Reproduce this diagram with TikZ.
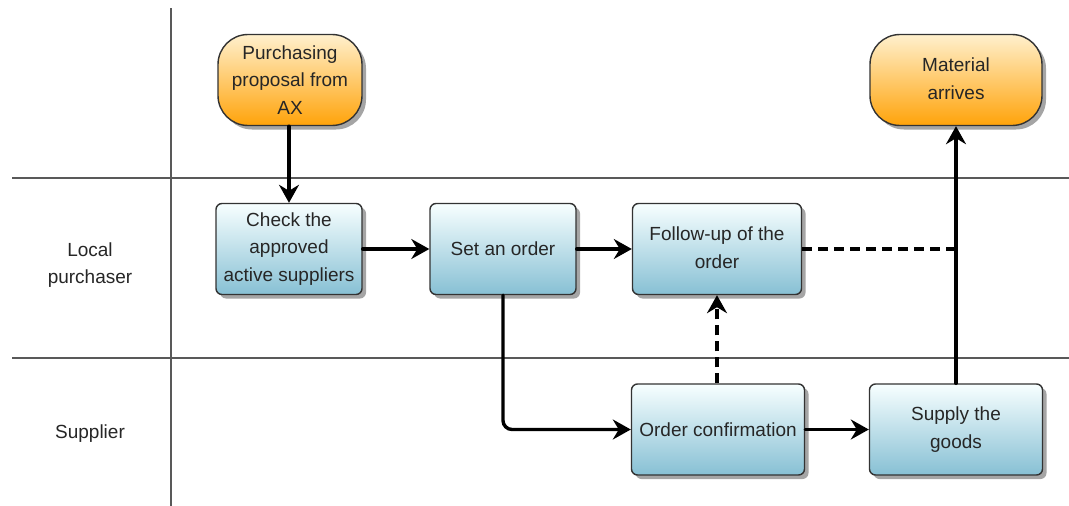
\documentclass[tikz,border=0pt]{standalone}
\usepackage{fontspec}
\setmainfont{Liberation Sans}
\usetikzlibrary{arrows.meta,shadows,positioning}
\tikzset{
  lane/.style={draw=black!65, line width=1.3pt},
  boxshadow/.style={drop shadow={shadow xshift=4pt, shadow yshift=-4pt, fill=black!50, opacity=0.7}},
  task/.style={boxshadow, draw=black!80, line width=1.4pt, rounded corners=6pt,
    top color=blue!3!cyan!3!white, bottom color={rgb,255:red,135;green,192;blue,212},
    minimum width=#1, minimum height=91pt, align=center, inner sep=1pt,
    font=\fontsize{19}{27.5}\selectfont, text=black!85},
  task/.default=146pt,
  terminal/.style={boxshadow, draw=black!80, line width=1.4pt, rounded corners=30pt,
    top color={rgb,255:red,255;green,240;blue,205}, bottom color={rgb,255:red,255;green,163;blue,10},
    minimum width=#1, minimum height=91pt, align=center, inner sep=1pt,
    font=\fontsize{19}{27.5}\selectfont, text=black!85},
  lanelabel/.style={align=center, font=\fontsize{19}{27.5}\selectfont, text=black!85},
  flow/.style={line width=3.4pt, black, line cap=round,
    -{Stealth[length=18pt,width=20pt,inset=6pt]}},
  dashflow/.style={flow, line cap=butt, dash pattern=on 10pt off 6pt},
}
\begin{document}
\begin{tikzpicture}[x=1pt,y=-1pt]
  \useasboundingbox (0,0) rectangle (1069,506);
  \fill[white] (0,0) rectangle (1069,506);

  % swimlane grid
  \draw[lane] (12,178) -- (1069,178);
  \draw[lane] (12,358) -- (1069,358);
  \draw[lane] (171,8) -- (171,506);

  \node[lanelabel] (lp) at (90,265) {Local\\purchaser};
  \node[lanelabel] (sp) at (90,434) {Supplier};

  % process steps
  \node[terminal=144pt] (prop) at (290,80) {Purchasing\\proposal from\\AX};
  \node[terminal=172pt, text depth=3pt] (arr) at (956,80) {Material\\arrives};
  \node[task=146pt] (check) at (289,249) {Check the\\approved\\active suppliers};
  \node[task=146pt] (set)   at (503,249) {Set an order};
  \node[task=169pt, text depth=3pt] (follow) at (717,249) {Follow-up of the\\order};
  \node[task=173pt] (conf)  at (718,429.5) {Order confirmation};
  \node[task=173pt] (supply) at (956,429.5) {Supply the\\goods};

  % connectors
  \draw[flow] (prop.south -| check.north) -- (check.north);
  \draw[flow] (check.east) -- (set.west);
  \draw[flow] (set.east) -- (follow.west);
  \draw[flow, rounded corners=9pt] (set.south) |- (conf.west);
  \draw[dashflow] (conf.north -| follow.south) -- (follow.south);
  \draw[flow] (conf.east) -- (supply.west);
  \draw[flow] (supply.north) -- (arr.south);
  \coordinate (join) at (arr.south |- follow.east);
  \draw[line width=3.4pt, dash pattern=on 10pt off 6pt] (follow.east) -- (join);
\end{tikzpicture}
\end{document}
